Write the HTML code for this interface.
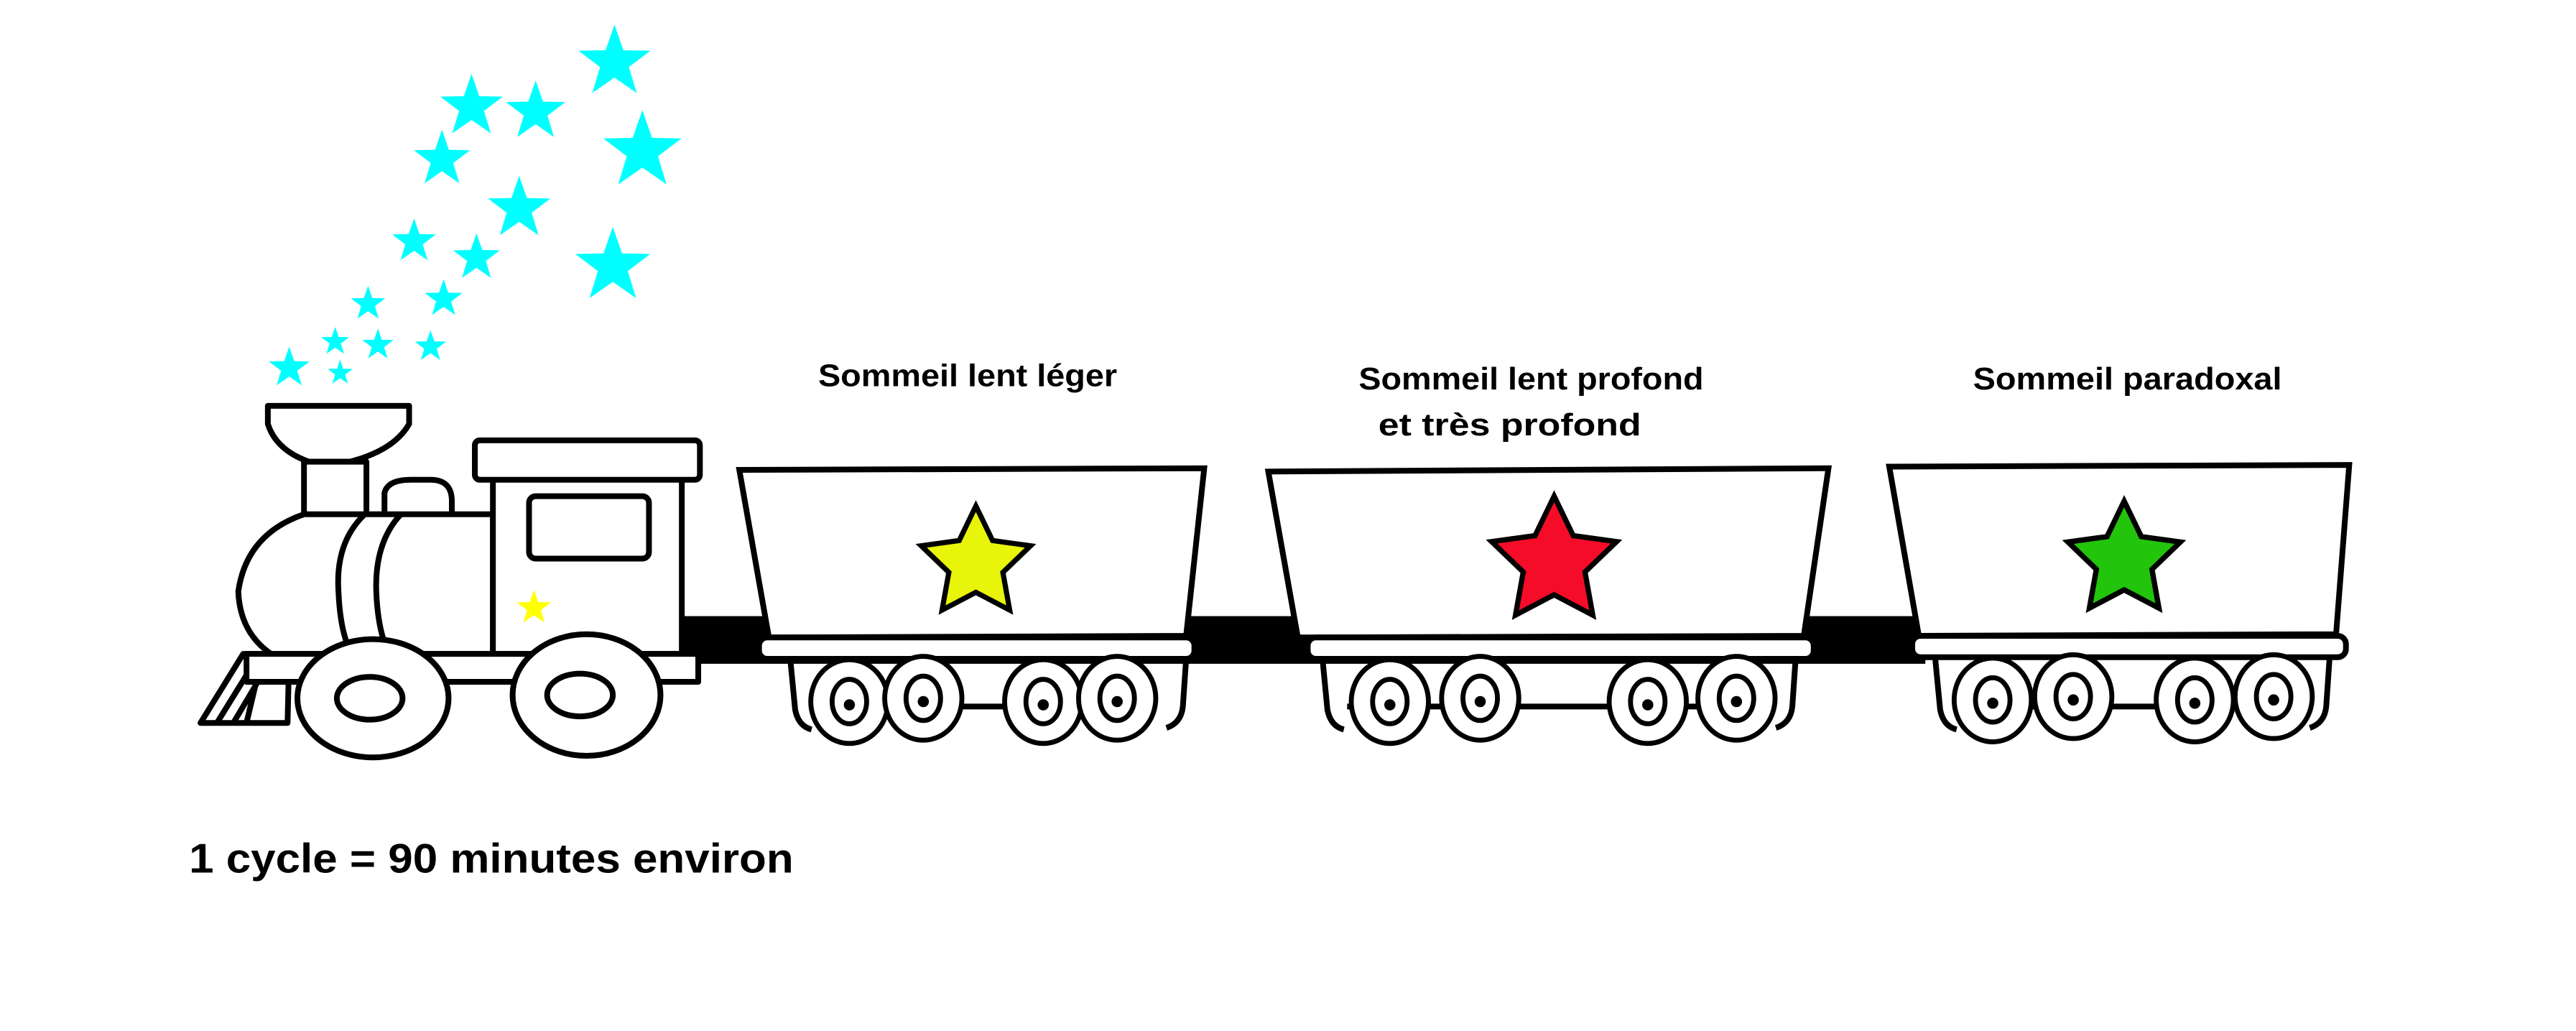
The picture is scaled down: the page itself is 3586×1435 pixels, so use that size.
<!DOCTYPE html>
<html><head><meta charset="utf-8"><style>
html,body{margin:0;padding:0;background:#fff;}
svg{display:block;}
text{font-family:"Liberation Sans",sans-serif;font-weight:bold;fill:#000;}
</style></head><body>
<svg width="3586" height="1435" viewBox="0 0 1568 627.5" xmlns="http://www.w3.org/2000/svg">
<defs>
<polygon id="st" points="0,-1 .29,-.4 .951,-.309 .47,.153 .588,.809 0,.5 -.588,.809 -.47,.153 -.951,-.309 -.29,-.4"/>
<polygon id="sc" points="0,-1 .235,-.324 .951,-.309 .38,.124 .588,.809 0,.4 -.588,.809 -.38,.124 -.951,-.309 -.235,-.324"/>
<g id="wh">
<ellipse cx="0" cy="0" rx="23.5" ry="25.5" fill="#fff" stroke="#000" stroke-width="3"/>
<ellipse cx="0" cy="0" rx="10.5" ry="13.5" fill="#fff" stroke="#000" stroke-width="3"/>
<circle cx="0" cy="2" r="3.4" fill="#000"/>
</g>
</defs>
<rect width="1568" height="627.5" fill="#fff"/>

<g fill="#00ffff">
<use href="#sc" transform="translate(374,38) scale(23)"/>
<use href="#sc" transform="translate(287,65) scale(20)"/>
<use href="#sc" transform="translate(326,68) scale(19)"/>
<use href="#sc" transform="translate(391,92) scale(25)"/>
<use href="#sc" transform="translate(269,97) scale(18)"/>
<use href="#sc" transform="translate(316,127) scale(20)"/>
<use href="#sc" transform="translate(373,162) scale(24)"/>
<use href="#sc" transform="translate(252,147) scale(14)"/>
<use href="#sc" transform="translate(290,157) scale(15)"/>
<use href="#sc" transform="translate(224,185) scale(11)"/>
<use href="#sc" transform="translate(270,182) scale(12)"/>
<use href="#sc" transform="translate(204,208) scale(9)"/>
<use href="#sc" transform="translate(230,210) scale(10)"/>
<use href="#sc" transform="translate(262,211) scale(10)"/>
<use href="#sc" transform="translate(176,224) scale(13)"/>
<use href="#sc" transform="translate(207,227) scale(8)"/>
</g>

<rect x="412" y="375" width="760" height="29" fill="#000"/>

<g stroke="#000" stroke-width="3.5" fill="#fff" stroke-linejoin="round">
<path d="M176,398 L148,398 L122,440 L175,440 Z"/>
<path d="M158,398 L132,440 M167,398 L142,440 M160,398 L150,440" />
<path d="M163,247 L249,247 L249,258 Q240,274 213,281 L188,281 Q168,274 163,258 Z"/>
<rect x="185" y="281" width="38" height="33"/>
<path d="M234,313 L234,300 Q236,292 250,292 L262,292 Q275,292 275,305 L275,313"/>
<path d="M300,313 L185,313 Q150,325 145,360 Q146,385 165,398 L300,398 Z"/>
<path d="M222,313 Q204,330 206,360 Q207,385 214,398" fill="none"/>
<path d="M244,313 Q228,330 229,360 Q230,385 237,398" fill="none"/>
<rect x="300" y="291" width="115" height="107"/>
<rect x="289" y="268" width="137" height="24" rx="3"/>
<rect x="322" y="302" width="73" height="38" rx="4"/>
<rect x="150" y="398" width="275" height="17"/>
<ellipse cx="227" cy="425" rx="46" ry="36"/>
<ellipse cx="225" cy="425" rx="20" ry="13"/>
<ellipse cx="357" cy="423" rx="45" ry="37"/>
<ellipse cx="353" cy="423" rx="20" ry="13"/>
</g>
<use href="#sc" transform="translate(325,370) scale(11)" fill="#ffff00"/>

<!-- wagon 1 -->
<g stroke="#000" stroke-width="3.5" fill="#fff">
<path d="M481,401 L484,432 Q486,442 494,444 M722,401 L720,430 Q719,440 710,443" fill="none"/>
<line x1="500" y1="430" x2="700" y2="430"/>
<polygon points="450,286 733,285 722,387 468,388"/>
<rect x="462" y="388" width="265" height="13" rx="5"/>
</g>
<use href="#wh" x="517" y="427"/><use href="#wh" x="562" y="425"/>
<use href="#wh" x="635" y="427"/><use href="#wh" x="680" y="425"/>
<use href="#st" transform="translate(594,343) scale(35)" fill="#e8f40a" stroke="#000" stroke-width="0.09"/>

<!-- wagon 2 -->
<g stroke="#000" stroke-width="3.5" fill="#fff">
<path d="M805,401 L808,432 Q810,442 818,444 M1093,401 L1091,430 Q1090,440 1081,443" fill="none"/>
<line x1="820" y1="430" x2="1080" y2="430"/>
<polygon points="772,287 1113,285 1098,387 790,388"/>
<rect x="796" y="388" width="308" height="13" rx="5"/>
</g>
<use href="#wh" x="846" y="427"/><use href="#wh" x="901" y="425"/>
<use href="#wh" x="1003" y="427"/><use href="#wh" x="1057" y="425"/>
<use href="#st" transform="translate(946,342) scale(40)" fill="#f50c28" stroke="#000" stroke-width="0.08"/>

<!-- wagon 3 -->
<g stroke="#000" stroke-width="3.5" fill="#fff">
<path d="M1178,401 L1181,432 Q1183,442 1191,444 M1418,401 L1416,430 Q1415,440 1406,443" fill="none"/>
<line x1="1195" y1="430" x2="1400" y2="430"/>
<polygon points="1150,284 1430,283 1422,386 1168,387"/>
<rect x="1164" y="387" width="264" height="13" rx="5"/>
</g>
<use href="#wh" x="1213" y="426"/><use href="#wh" x="1262" y="424"/>
<use href="#wh" x="1336" y="426"/><use href="#wh" x="1384" y="424"/>
<use href="#st" transform="translate(1293,341) scale(36)" fill="#22c40c" stroke="#000" stroke-width="0.09"/>

<text x="589" y="235" font-size="19" text-anchor="middle" textLength="182" lengthAdjust="spacingAndGlyphs">Sommeil lent léger</text>
<text x="932" y="237" font-size="19" text-anchor="middle" textLength="210" lengthAdjust="spacingAndGlyphs">Sommeil lent profond</text>
<text x="919" y="265" font-size="19" text-anchor="middle" textLength="160" lengthAdjust="spacingAndGlyphs">et très profond</text>
<text x="1295" y="237" font-size="19" text-anchor="middle" textLength="188" lengthAdjust="spacingAndGlyphs">Sommeil paradoxal</text>
<text x="115" y="531" font-size="25" textLength="368" lengthAdjust="spacingAndGlyphs">1 cycle = 90 minutes environ</text>
</svg>
</body></html>
